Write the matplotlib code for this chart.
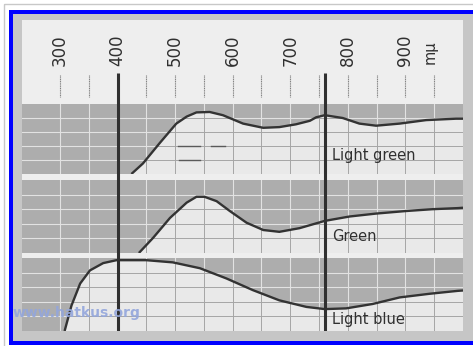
import matplotlib
matplotlib.use("Agg")
import matplotlib.pyplot as plt
from matplotlib.patches import Rectangle, Polygon

# wavelength scale (m-mu) and the three filter transmission curves
wl_min, wl_max = 234, 1000
tick_values = [300, 400, 500, 600, 700, 800, 900]
tick_labels = ["300", "400", "500", "600", "700", "800", "900"]
unit_label = "m\u03bc"
visible_limits = [400, 760]

light_green_wl = [424, 444, 473, 502, 520, 537, 560, 583, 618, 653, 681, 710, 734,
                  745, 760, 791, 820, 849, 890, 936, 988, 1000]
light_green_t = [0.0, 0.15, 0.44, 0.72, 0.82, 0.88, 0.886, 0.84, 0.72, 0.66, 0.67, 0.71, 0.76,
                 0.81, 0.84, 0.80, 0.72, 0.69, 0.72, 0.77, 0.79, 0.79]

green_wl = [437, 462, 491, 520, 537, 551, 572, 595, 624, 653, 681, 716, 760,
            803, 849, 901, 947, 991, 1000]
green_t = [0.0, 0.21, 0.48, 0.69, 0.77, 0.77, 0.71, 0.575, 0.415, 0.315, 0.29, 0.34, 0.44,
           0.50, 0.54, 0.575, 0.60, 0.615, 0.62]

light_blue_wl = [308, 320, 335, 352, 375, 398, 450, 496, 543, 589, 635, 681, 728,
                 760, 797, 843, 890, 942, 991, 1000]
light_blue_t = [0.0, 0.35, 0.65, 0.83, 0.93, 0.97, 0.97, 0.94, 0.86, 0.72, 0.56, 0.42, 0.33,
                0.30, 0.31, 0.37, 0.46, 0.51, 0.55, 0.555]

filter_names = ["Light green", "Green", "Light blue"]
curves = [(light_green_wl, light_green_t), (green_wl, green_t), (light_blue_wl, light_blue_t)]

# darker print marks on the light-green grid (start, end, level)
print_marks = [(505, 543, 0.4), (563, 586, 0.4), (507, 543, 0.2)]

W, H = 473, 346
GRAY = "#adadad"
LIGHT = "#e9e9e9"
INK = "#303030"
FRAME_GRAY = "#c6c6c6"

fig = plt.figure(figsize=(W / 100, H / 100), dpi=100)


def px_axes(x0, y0, x1, y1, z=0):
    a = fig.add_axes([x0 / W, 1 - y1 / H, (x1 - x0) / W, (y1 - y0) / H])
    a.set_zorder(z)
    return a


# page border / blue frame (open on the right, the scan is cut there)
bg = px_axes(0, 0, W, H)
bg.set_xlim(0, W)
bg.set_ylim(H, 0)
bg.axis("off")
bg.add_patch(Rectangle((0, 0), W, H, color="white", lw=0))
bg.add_patch(Rectangle((3.5, 3.5), W + 10, H + 10, fill=False, ec="#c8c8c8", lw=1))
bg.add_patch(Rectangle((12.5, 13.5), W - 12.5, 327, color=FRAME_GRAY, lw=0))
bg.add_patch(Rectangle((9, 10), 3.5, 334.5, color="#0000ff", lw=0))
bg.add_patch(Rectangle((9, 10), W - 9, 3.5, color="#0000ff", lw=0))
bg.add_patch(Rectangle((9, 340.5), W - 9, 4, color="#0000ff", lw=0))

# light card holding the scale and the panels
card = px_axes(22, 20, 463, 331, z=1)
card.set_xlim(wl_min, wl_max)
card.set_ylim(331, 20)
card.set_facecolor("#eeeeee")
for s in card.spines.values():
    s.set_visible(False)
card.set_xticks([])
card.set_yticks([])
for t in range(300, 1000, 50):
    card.plot([t, t], [75, 97], color="#808080", lw=0.8, ls=(0, (1, 0.6)))
for v, lab in zip(tick_values, tick_labels):
    card.text(v, 50, lab, rotation=90, ha="center", va="center",
              fontsize=12, color=INK)
card.text(943, 52, unit_label, rotation=90, ha="center", va="center",
          fontsize=10.5, color=INK)

panel_rows = [(104, 174), (180, 253), (258, 331)]
label_y = [0.27, 0.22, 0.16]
axes = []

for (y0, y1), (wl, tr), name, ly in zip(panel_rows, curves, filter_names, label_y):
    ax = px_axes(22, y0, 463, y1, z=2)
    axes.append(ax)
    ax.set_xlim(wl_min, wl_max)
    ax.set_ylim(0, 1)
    ax.set_facecolor(LIGHT)
    for s in ax.spines.values():
        s.set_visible(False)
    ax.set_xticks([])
    ax.set_yticks([])

    # grid seen through the transmitted (light) part
    for t in range(300, 1000, 50):
        ax.axvline(t, color="#a5a5a5", lw=0.7, zorder=1)
    for h in [0.2, 0.4, 0.6, 0.8]:
        ax.axhline(h, color="#a5a5a5", lw=0.7, zorder=1)

    # absorbed part shaded above the curve
    verts = [(wl_min, 1), (wl_min, 0)] + list(zip(wl, tr)) + [(wl_max, 1)]
    shade = Polygon(verts, closed=True, fc=GRAY, ec="none", zorder=2)
    ax.add_patch(shade)
    for t in range(300, 1000, 50):
        ln = ax.axvline(t, color="#e2e2e2", lw=0.8, zorder=3)
        ln.set_clip_path(shade)
    for h in [0.2, 0.4, 0.6, 0.8]:
        ln = ax.axhline(h, color="#e2e2e2", lw=0.8, zorder=3)
        ln.set_clip_path(shade)

    ax.plot(wl, tr, color="#333333", lw=1.7, zorder=4, solid_capstyle="butt")
    ax.text(773, ly, name, ha="left", va="center", fontsize=10.5, color=INK, zorder=5)

for a, b, lvl in print_marks:
    axes[0].plot([a, b], [lvl, lvl], color="#5a5a5a", lw=1.0, zorder=2.5)

# thick marks at the limits of the visible spectrum, drawn over everything
over = px_axes(22, 20, 463, 331, z=3)
over.set_xlim(wl_min, wl_max)
over.set_ylim(331, 20)
over.patch.set_alpha(0)
over.axis("off")
for v in visible_limits:
    over.plot([v, v], [73, 331], color=INK, lw=2.2, solid_capstyle="butt")

top = px_axes(0, 0, W, H, z=4)
top.set_xlim(0, W)
top.set_ylim(H, 0)
top.axis("off")
top.patch.set_alpha(0)
top.text(13, 313, "www.hatkus.org", ha="left", va="center", fontsize=10,
         fontweight="bold", color="#93a6dc", alpha=0.9)

fig.savefig("out.png", dpi=100)
